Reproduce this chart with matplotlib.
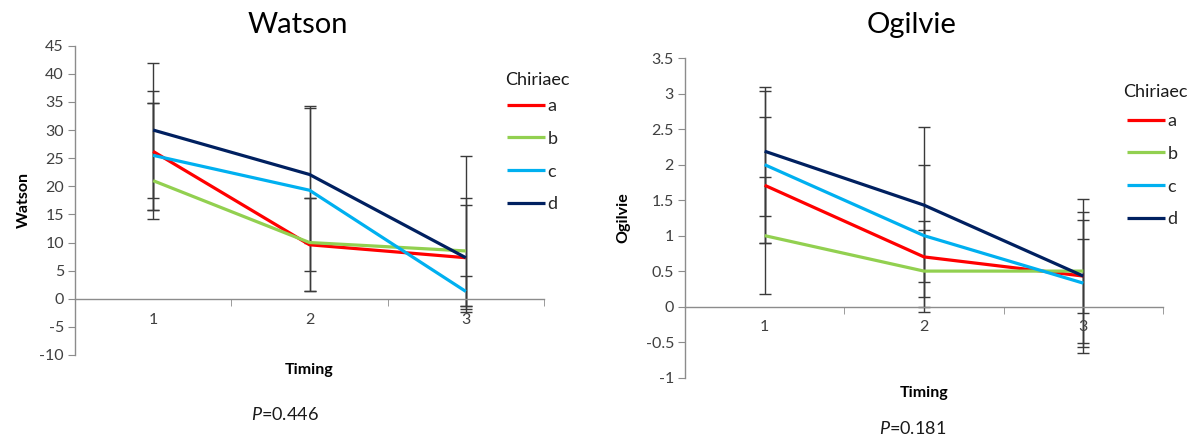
import matplotlib
matplotlib.use("Agg")
import matplotlib.pyplot as plt
from matplotlib.ticker import FixedLocator, FuncFormatter

plt.rcParams['font.family'] = ['Lato', 'DejaVu Sans']
plt.rcParams['mathtext.fontset'] = 'custom'
plt.rcParams['mathtext.it'] = 'Lato:italic'
plt.rcParams['mathtext.rm'] = 'Lato'

# data
timing = [1, 2, 3]
groups = ['a', 'b', 'c', 'd']
colors = ['#FF0000', '#92D050', '#00B0F0', '#002060']

watson_vals = [[26.2, 9.6, 7.3], [21.0, 10.0, 8.5], [25.5, 19.3, 1.3], [30.0, 22.1, 7.3]]
watson_lo = [[15.7, 1.4, -1.8], [15.7, 1.4, -1.2], [14.2, 5.0, -1.2], [17.9, 10.0, -2.3]]
watson_hi = [[36.9, 18.0, 18.0], [34.8, 18.0, 16.6], [34.8, 34.0, 4.1], [42.0, 34.3, 25.4]]

ogilvie_vals = [[1.71, 0.70, 0.43], [1.00, 0.50, 0.50], [2.00, 1.00, 0.33], [2.19, 1.43, 0.43]]
ogilvie_lo = [[0.90, 0.13, -0.51], [0.18, -0.08, -0.085], [0.90, 0.0, -0.57], [1.27, 0.34, -0.66]]
ogilvie_hi = [[2.67, 1.20, 1.34], [1.82, 1.08, 1.22], [3.04, 2.00, 0.95], [3.10, 2.53, 1.51]]

W, H = 1199, 441
fig = plt.figure(figsize=(W / 100, H / 100), dpi=100)


def px(x0, y0, x1, y1):
    # pixel box (top-left origin) -> figure fraction rect
    return [x0 / W, 1 - y1 / H, (x1 - x0) / W, (y1 - y0) / H]


def draw(ax, vals, lo, hi, ylim, ystep, title, ylabel, pval, title_xy, p_xy,
         leg_title_xy, leg_xy, ylab_x, xlab_y):
    for v, l, h, c, g in zip(vals, lo, hi, colors, groups):
        yerr = [[vi - li for vi, li in zip(v, l)], [hi_ - vi for vi, hi_ in zip(v, h)]]
        ax.errorbar(timing, v, yerr=yerr, fmt='none', ecolor='#3a3a3a',
                    elinewidth=1, capsize=4, capthick=1, zorder=1)
        ax.plot(timing, v, color=c, lw=2.3, label=g, zorder=3, solid_capstyle='butt')

    ax.set_xlim(0.5, 3.5)
    ax.set_ylim(*ylim)
    n = int(round((ylim[1] - ylim[0]) / ystep))
    ax.set_yticks([ylim[0] + i * ystep for i in range(n + 1)])
    ax.yaxis.set_major_formatter(FuncFormatter(lambda v, p: '{:g}'.format(round(v, 2))))
    ax.set_xticks(timing)
    ax.xaxis.set_minor_locator(FixedLocator([0.5, 1.5, 2.5, 3.5]))

    for s in ['top', 'right']:
        ax.spines[s].set_visible(False)
    ax.spines['bottom'].set_position(('data', 0))
    for s in ['left', 'bottom']:
        ax.spines[s].set_color('#8c8c8c')
        ax.spines[s].set_linewidth(1)

    ax.tick_params(axis='y', direction='out', length=5, color='#8c8c8c',
                   labelsize=11.5, labelcolor='#404040', pad=3)
    ax.tick_params(axis='x', which='major', length=0, pad=10,
                   labelsize=11.5, labelcolor='#404040')
    ax.tick_params(axis='x', which='minor', direction='out', length=5, color='#8c8c8c')

    ax.set_ylabel(ylabel, fontweight='bold', fontsize=11.5)
    ax.yaxis.set_label_coords(ylab_x, 0.5)
    ax.set_xlabel('Timing', fontweight='bold', fontsize=11.5, va='center')
    ax.xaxis.set_label_coords(0.5, xlab_y)

    fig.text(title_xy[0] / W, 1 - title_xy[1] / H, title, fontsize=21,
             ha='center', va='center')
    fig.text(p_xy[0] / W, 1 - p_xy[1] / H, '$P$=' + pval, fontsize=13,
             ha='center', va='center', color='#1a1a1a')

    # legend title drawn on its own so the gap to the entries can match
    fig.text(leg_title_xy[0] / W, 1 - leg_title_xy[1] / H, 'Chiriaec', fontsize=13,
             ha='left', va='center', color='#1a1a1a')
    leg = ax.legend(loc='upper left', bbox_to_anchor=(leg_xy[0] / W, 1 - leg_xy[1] / H),
                    bbox_transform=fig.transFigure, frameon=False,
                    fontsize=13, handlelength=2.1,
                    handletextpad=0.15, labelspacing=0.93, borderaxespad=0,
                    borderpad=0)
    for t in leg.get_texts():
        t.set_color('#262626')


ax1 = fig.add_axes(px(75, 45.7, 544, 355))
draw(ax1, watson_vals, watson_lo, watson_hi, (-10, 45), 5, 'Watson', 'Watson',
     '0.446', (298, 25), (285, 414), (505, 80), (507, 98), -0.094, -0.05)

ax2 = fig.add_axes(px(685, 58.3, 1163, 377.5))
draw(ax2, ogilvie_vals, ogilvie_lo, ogilvie_hi, (-1, 3.5), 0.5, 'Ogilvie', 'Ogilvie',
     '0.181', (912, 25), (913, 429), (1123, 92), (1127, 113), -0.115, -0.05)

fig.savefig('out.png', dpi=100, facecolor='white')
